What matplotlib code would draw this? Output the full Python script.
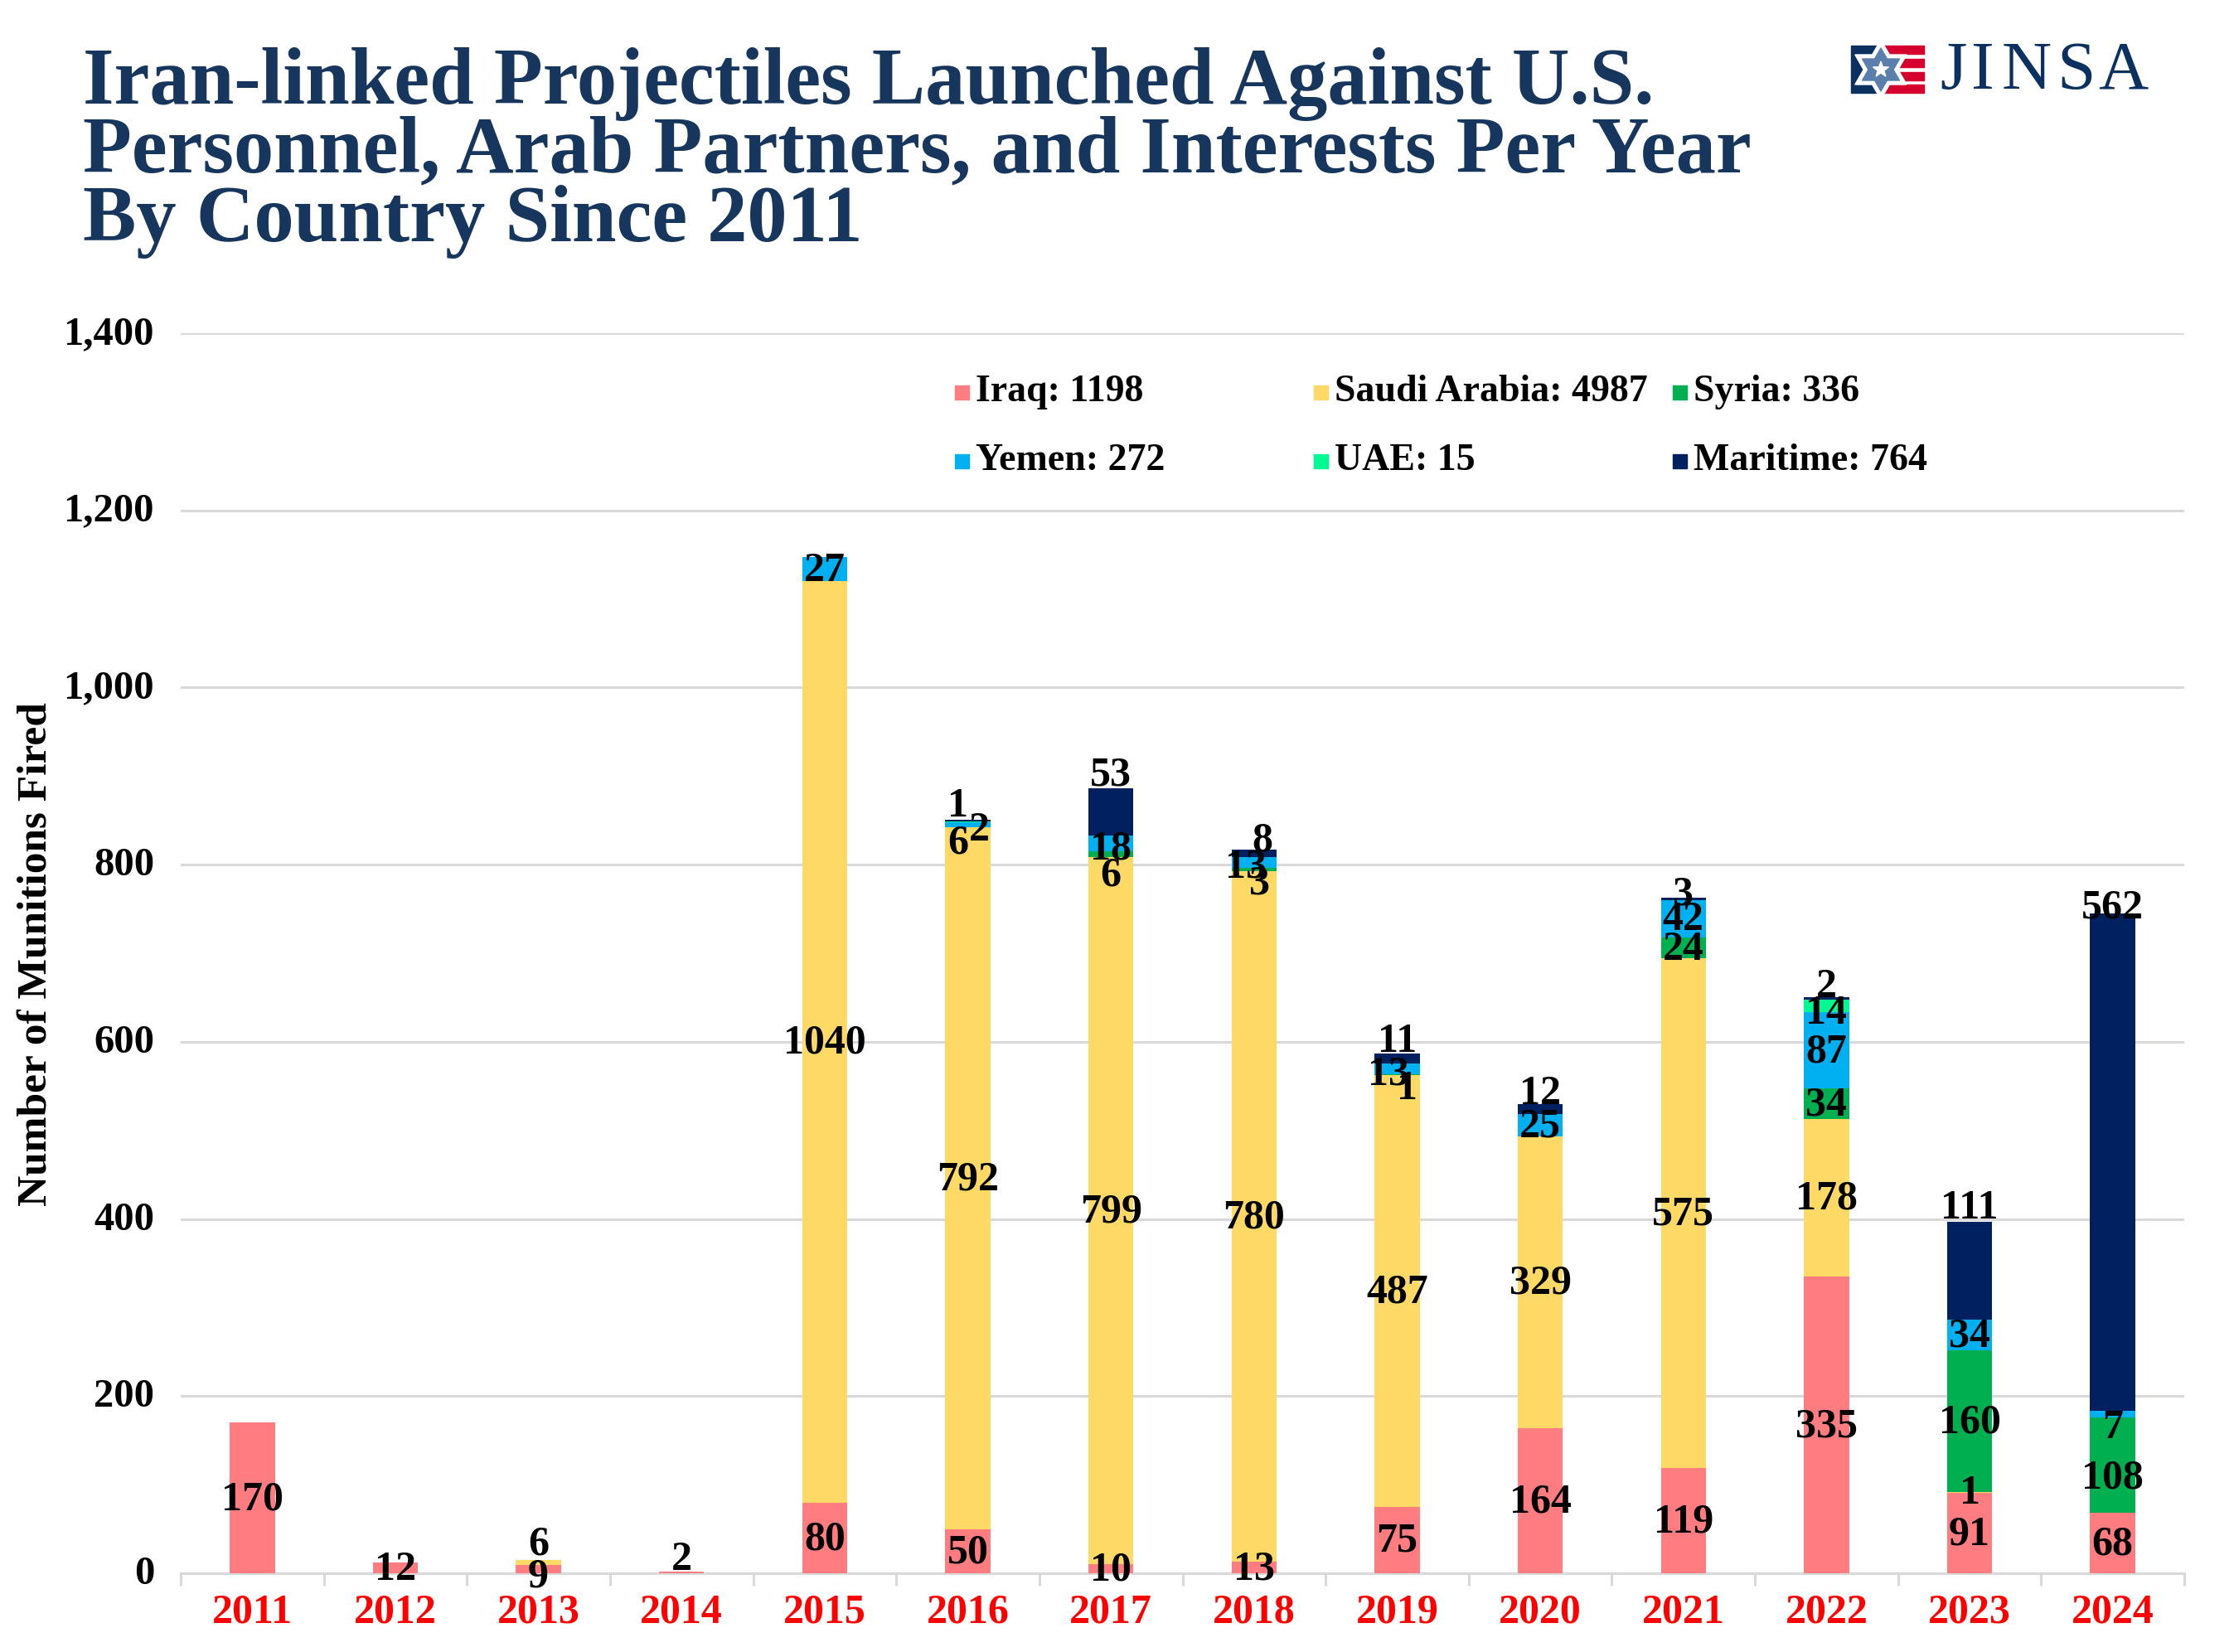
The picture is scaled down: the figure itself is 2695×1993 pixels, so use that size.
import matplotlib
matplotlib.use('Agg')
import matplotlib.pyplot as plt
from matplotlib.patches import Polygon, Rectangle
from matplotlib.transforms import ScaledTranslation
import numpy as np

years = [2011, 2012, 2013, 2014, 2015, 2016, 2017, 2018, 2019, 2020, 2021, 2022, 2023, 2024]
iraq = [170, 12, 9, 2, 80, 50, 10, 13, 75, 164, 119, 335, 91, 68]
saudi = [0, 0, 6, 0, 1040, 792, 799, 780, 487, 329, 575, 178, 1, 0]
syria = [0, 0, 0, 0, 0, 0, 6, 3, 1, 0, 24, 34, 160, 108]
yemen = [0, 0, 0, 0, 27, 6, 18, 13, 13, 25, 42, 87, 34, 7]
uae = [0, 0, 0, 0, 0, 1, 0, 0, 0, 0, 0, 14, 0, 0]
maritime = [0, 0, 0, 0, 0, 2, 53, 8, 11, 12, 3, 2, 111, 562]

names = ['Iraq', 'Saudi Arabia', 'Syria', 'Yemen', 'UAE', 'Maritime']
series = [iraq, saudi, syria, yemen, uae, maritime]
colors = ['#FF7C80', '#FFD966', '#00B050', '#00B0F0', '#00FA92', '#002060']

# labels that were dragged off their segment in the original, (dx, dy) in pixels
nudges = {
    ('Iraq', 2012): (0, 0), ('Iraq', 2013): (0, -7), ('Iraq', 2014): (0, 17),
    ('Saudi Arabia', 2013): (0, 24),
    ('Yemen', 2016): (-12, -20), ('UAE', 2016): (-12, 20), ('Maritime', 2016): (14, -10),
    ('Syria', 2017): (0, -24), ('Yemen', 2017): (0, -5), ('Maritime', 2017): (0, 46),
    ('Syria', 2018): (7, -15), ('Yemen', 2018): (-10, -4), ('Maritime', 2018): (10, 17),
    ('Syria', 2019): (12, -15), ('Yemen', 2019): (-10, -5), ('Maritime', 2019): (0, 22),
    ('Maritime', 2020): (0, 20), ('Maritime', 2021): (0, 7),
    ('UAE', 2022): (0, -8), ('Maritime', 2022): (0, 15),
    ('Maritime', 2023): (0, 77),
    ('Syria', 2024): (0, -14), ('Yemen', 2024): (0, -15), ('Maritime', 2024): (0, 309),
}

W, H = 2695, 1993
SERIF = 'Liberation Serif'
NAVY = '#17365D'

fig = plt.figure(figsize=(W / 100, H / 100), dpi=100)
ax = fig.add_axes([218 / W, 1 - 1898 / H, (2635 - 218) / W, (1898 - 402) / H])

x = np.arange(len(years))
bottom = np.zeros(len(years))
for name, vals, color in zip(names, series, colors):
    vals = np.array(vals)
    ax.bar(x, vals, 0.315, bottom=bottom, color=color, zorder=3)
    for i, v in enumerate(vals):
        if v == 0:
            continue
        dx, dy = nudges.get((name, years[i]), (0, 0))
        ax.annotate(str(v), (x[i], bottom[i] + v / 2), xytext=(dx, dy - 2), textcoords='offset pixels',
                    ha='center', va='center', fontsize=36, family=SERIF, weight='bold',
                    color='black', zorder=5, annotation_clip=False)
    bottom += vals

ax.set_xlim(-0.5, len(years) - 0.5)
ax.set_ylim(0, 1400)
ax.set_xticks(x)
ax.set_xticklabels(years, fontsize=36, family=SERIF, weight='bold', color='#FF0000')
ax.set_xticks(np.arange(len(years) + 1) - 0.5, minor=True)
ax.tick_params(axis='x', which='major', length=0, pad=18)
ax.tick_params(axis='x', which='minor', length=11, width=2.2, color='#D9D9D9')
ax.set_yticks(range(0, 1401, 200))
ax.set_yticklabels([f'{v:,}' for v in range(0, 1401, 200)], fontsize=35, family=SERIF, weight='bold')
ax.tick_params(axis='y', length=0, pad=23)
# y labels sit a little above their gridline in the reference
for lab in ax.get_yticklabels():
    lab.set_transform(lab.get_transform() + ScaledTranslation(0, 4 / 100, fig.dpi_scale_trans))
ax.yaxis.grid(True, color='#D9D9D9', linewidth=2.2, zorder=0)
ax.set_axisbelow(True)
for side in ['top', 'right', 'left']:
    ax.spines[side].set_visible(False)
ax.spines['bottom'].set_color('#D9D9D9')
ax.spines['bottom'].set_linewidth(2.2)
ax.set_ylabel('Number of Munitions Fired', fontsize=37, family=SERIF, weight='bold')
ax.yaxis.set_label_coords((67 - 218) / (2635 - 218), (1898 - 1151) / (1898 - 402))

# overlay in image pixels for title, legend and logo
ov = fig.add_axes([0, 0, 1, 1], zorder=10)
ov.set_xlim(0, W)
ov.set_ylim(H, 0)
ov.axis('off')

title = ['Iran-linked Projectiles Launched Against U.S.',
         'Personnel, Arab Partners, and Interests Per Year',
         'By Country Since 2011']
for line, y in zip(title, [101, 184, 267]):
    ov.text(100, y, line, fontsize=69.5, family=SERIF, weight='bold', color=NAVY, ha='left', va='center')

for i, (name, vals, color) in enumerate(zip(names, series, colors)):
    lx = 1152 + (i % 3) * 433
    ly = 473 + (i // 3) * 83
    ov.add_patch(Rectangle((lx, ly - 8), 17, 17, color=color))
    ov.text(lx + 25, ly, f'{name}: {sum(vals)}', fontsize=33, family=SERIF, weight='bold', ha='left', va='center')

# JINSA logo
LOGO_NAVY, LOGO_RED, LOGO_BLUE = '#0B3160', '#D6002F', '#5B7FAD'
ov.add_patch(Rectangle((2233, 55), 31, 57, color=LOGO_NAVY))
for top, left in [(55, 2269), (71, 2285), (87, 2285), (102, 2269)]:
    ov.add_patch(Rectangle((left, top), 2321 - left, 10, color=LOGO_RED))
cx, cy = 2269, 84
def star_points(r_out, r_in, n, rot=0):
    a = np.arange(2 * n) * np.pi / n + rot
    r = np.where(np.arange(2 * n) % 2 == 0, r_out, r_in)
    return np.c_[cx + r * np.sin(a), cy - r * np.cos(a)]
ov.add_patch(Polygon(star_points(36, 20.8, 6), color='white'))
ov.add_patch(Polygon(star_points(26, 15, 6), color=LOGO_BLUE))
ov.add_patch(Polygon(star_points(10, 4, 5), color='white'))
for ch, lx in zip('JINSA', [2356, 2392, 2445, 2505, 2561]):
    ov.text(lx, 87, ch, fontsize=60, family=SERIF, color=LOGO_NAVY, ha='center', va='center')

fig.savefig('out.png', dpi=100)
